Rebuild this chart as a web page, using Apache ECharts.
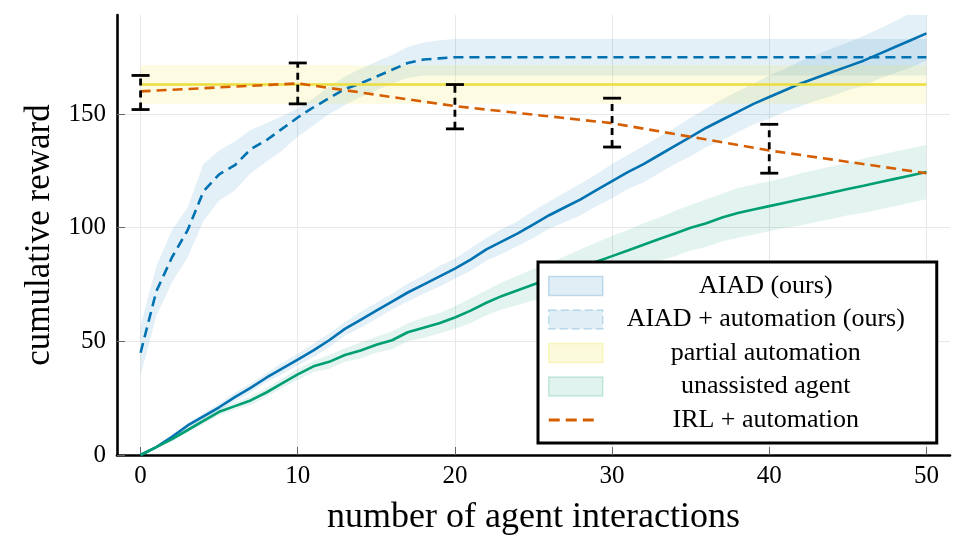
<!DOCTYPE html>
<html>
<head>
<meta charset="utf-8">
<script src="https://cdn.jsdelivr.net/npm/echarts@6/dist/echarts.min.js"></script>
<style>
html,body{margin:0;padding:0;background:#fff;}
#chart{width:968px;height:556px;}
</style>
</head>
<body>
<div id="chart"></div>
<script>
// ---- data ----
const interactions = [0,1,2,3,4,5,6,7,8,9,10,11,12,13,14,15,16,17,18,19,20,21,22,23,24,25,26,27,28,29,30,31,32,33,34,35,36,37,38,39,40,41,42,43,44,45,46,47,48,49,50];

const aiadMean = [0,3.5,8,13,17,21,25.5,29.5,34,38,42,46,50.5,55.5,59.5,63.5,67.5,71.5,75,78.5,82,86,90.5,94,97.5,101.5,105.5,109,112.5,116.5,120.5,124.5,128,132,136,140,144,147.5,151,154.5,157.5,160.5,163.5,166,168.5,171,173.5,176.5,179.5,182.5,185.5];
const aiadSpread = [0,0.5,1,1,1.5,1.5,2,2,2,2.5,2.5,3,3,3,3.5,3.5,3.5,4,4,4.5,4.5,5,5,5.5,5.5,6,6,6.5,7,7,7.5,7.5,8,8,8,8.5,8.5,9,9,9,9.5,9.5,10,10,10.5,10.5,11,11,11.5,12,12];

const aiadAutoMean = [45,72,87,99,116,123.5,127.5,134.5,138.5,143.5,148.5,153,157,161,163.5,166.5,169.5,172.5,174,174.5,175,175,175,175,175,175,175,175,175,175,175,175,175,175,175,175,175,175,175,175,175,175,175,175,175,175,175,175,175,175,175];
const aiadAutoLow = [35,61,76,87,103,112,116.5,124,129,134,140,145,150,154,157.5,160.5,163.5,166,167,167,167,167,167,167,167,167,167,167,167,167,167,167,167,167,167,167,167,167,167,167,167,167,167,167,167,167,167,167,167,167,167];
const aiadAutoHigh = [57,83,99,109,128,134,138,143,146,149,152.5,157,162,166.5,170,173,176,179.5,181.5,182.5,183,183,183,183,183,183,183,183,183,183,183,183,183,183,183,183,183,183,183,183,183,183,183,183,183,183,183,183,183,183,183];

const unassistedMean = [0,3.5,7,11,15,19,21.5,24,27.5,31.5,35.5,39,41,44,46,48.5,50.5,54,56,58,60.5,63.5,67,70,72.5,75,77.5,80,82.5,85,87.5,90,92.5,95,97.5,100,102,104.5,106.5,108,109.5,111,112.5,114,115.5,117,118.5,120,121.5,123,124.5];
const unassistedSpread = [0,0.5,1,1,1.5,1.5,1.5,2,2,2,2.5,2.5,3,3,3.5,3.5,4,4,4.5,4.5,5,5.5,5.5,6,6.5,7,7,7.5,8,8.5,9,9,9.5,9.5,10,10,10.5,10.5,11,11,11,11,11.5,11.5,11.5,11.5,12,12,12,12,12];

const partialX = [0,50];
const partialMean = [163,163];
const partialLow = [154.5,154.5];
const partialHigh = [171.5,171.5];

const irlX = [0,10,20,30,40,50];
const irlMean = [160,163.5,153.5,146,134,124];
const irlErrX = [0,10,20,30,40];
const irlErrLow = [152,154.5,143.5,135.5,124];
const irlErrHigh = [167,172.5,163,157,145.5];

const xTicks = [0,10,20,30,40,50];
const yTicks = [0,50,100,150];

// ---- styles ----
const FONT = 'Liberation Serif';
const BLUE = '#0072B2', GREEN = '#009E73', YELLOW = '#EBDD3C', ORANGE = '#D55E00';

function bandSeries(name, xs, lo, hi, fill) {
  return {
    name: name, type: 'custom', silent: true, z: 1,
    data: xs.map((x, i) => [x, lo[i], hi[i]]),
    encode: { x: 0, y: [1, 2] },
    itemStyle: { color: fill },
    renderItem: function (params, api) {
      if (params.dataIndexInside !== 0) return null;
      const pts = [];
      for (let i = 0; i < xs.length; i++) pts.push(api.coord([xs[i], hi[i]]));
      for (let i = xs.length - 1; i >= 0; i--) pts.push(api.coord([xs[i], lo[i]]));
      const cs = params.coordSys;
      return {
        type: 'polygon',
        shape: { points: pts },
        style: { fill: fill, stroke: null },
        clipPath: { type: 'rect', shape: { x: cs.x, y: cs.y, width: cs.width, height: cs.height } }
      };
    }
  };
}

function lineSeries(name, xs, ys, color, dash) {
  return {
    name: name, type: 'line', z: 3, symbol: 'none', showSymbol: false, silent: true,
    data: xs.map((x, i) => [x, ys[i]]),
    lineStyle: { color: color, width: 2.6, type: dash ? [10, 6] : 'solid' },
    itemStyle: { color: color }
  };
}

const lowOf = (m, s) => m.map((v, i) => v - s[i]);
const highOf = (m, s) => m.map((v, i) => v + s[i]);

const series = [
  bandSeries('AIAD (ours)', interactions, lowOf(aiadMean, aiadSpread), highOf(aiadMean, aiadSpread), 'rgba(0,114,178,0.11)'),
  lineSeries('AIAD (ours) mean', interactions, aiadMean, BLUE, false),
  bandSeries('AIAD + automation (ours)', interactions, aiadAutoLow, aiadAutoHigh, 'rgba(0,114,178,0.11)'),
  lineSeries('AIAD + automation mean', interactions, aiadAutoMean, BLUE, true),
  bandSeries('partial automation', partialX, partialLow, partialHigh, 'rgba(240,228,66,0.16)'),
  lineSeries('partial automation mean', partialX, partialMean, YELLOW, false),
  bandSeries('unassisted agent', interactions, lowOf(unassistedMean, unassistedSpread), highOf(unassistedMean, unassistedSpread), 'rgba(0,158,115,0.11)'),
  lineSeries('unassisted agent mean', interactions, unassistedMean, GREEN, false),
  lineSeries('IRL + automation', irlX, irlMean, ORANGE, true),
  {
    name: 'IRL error', type: 'custom', silent: true, z: 5,
    data: irlErrX.map((x, i) => [x, irlErrLow[i], irlErrHigh[i]]),
    encode: { x: 0, y: [1, 2] },
    renderItem: function (params, api) {
      const lo = api.coord([api.value(0), api.value(1)]);
      const hi = api.coord([api.value(0), api.value(2)]);
      const cap = 9;
      const st = { stroke: '#000', lineWidth: 2.8 };
      return {
        type: 'group',
        children: [
          { type: 'line', shape: { x1: lo[0], y1: lo[1], x2: hi[0], y2: hi[1] }, style: Object.assign({ lineDash: [7, 5] }, st) },
          { type: 'line', shape: { x1: hi[0] - cap, y1: hi[1], x2: hi[0] + cap, y2: hi[1] }, style: st },
          { type: 'line', shape: { x1: lo[0] - cap, y1: lo[1], x2: lo[0] + cap, y2: lo[1] }, style: st }
        ]
      };
    }
  }
];

const chart = echarts.init(document.getElementById('chart'), null, { renderer: 'canvas' });
chart.setOption({
  animation: false,
  backgroundColor: '#fff',
  grid: { left: 117, right: 18, top: 15, bottom: 101, containLabel: false },
  xAxis: {
    type: 'value', min: -1.5, max: 51.5,
    name: 'number of agent interactions', nameLocation: 'middle', nameGap: 45,
    nameTextStyle: { fontFamily: FONT, fontSize: 36, color: '#000' },
    axisLine: { show: true, onZero: false, lineStyle: { color: '#000', width: 2.6 } },
    axisTick: { show: true, inside: true, length: 8, customValues: xTicks, lineStyle: { color: '#666', width: 1 } },
    axisLabel: { customValues: xTicks, fontFamily: FONT, fontSize: 25, color: '#000', margin: 9 },
    splitLine: { show: true, lineStyle: { color: '#e8e8e8', width: 1 } }
  },
  yAxis: {
    type: 'value', min: 0, max: 193.6,
    name: 'cumulative reward', nameLocation: 'middle', nameGap: 59,
    nameTextStyle: { fontFamily: FONT, fontSize: 35, color: '#000' },
    axisLine: { show: true, onZero: false, lineStyle: { color: '#000', width: 2.6 } },
    axisTick: { show: true, inside: true, length: 8, customValues: yTicks, lineStyle: { color: '#666', width: 1 } },
    axisLabel: { customValues: yTicks, fontFamily: FONT, fontSize: 25, color: '#000', margin: 11 },
    splitLine: { show: true, lineStyle: { color: '#e8e8e8', width: 1 } }
  },
  legend: {
    orient: 'vertical', left: 538, top: 262,
    backgroundColor: '#fff', borderColor: '#000', borderWidth: 3,
    padding: [11, 13, 10, 10],
    itemWidth: 54, itemHeight: 19, itemGap: 7.5, itemTextGap: 4,
    selectedMode: false, symbolKeepAspect: true,
    data: [
      { name: 'AIAD (ours)', icon: 'rect', itemStyle: { color: 'rgba(0,114,178,0.12)', borderColor: 'rgba(0,114,178,0.22)', borderWidth: 1.5 } },
      { name: 'AIAD + automation (ours)', icon: 'rect', itemStyle: { color: 'rgba(0,114,178,0.12)', borderColor: 'rgba(0,114,178,0.22)', borderWidth: 1.5, borderType: [8, 4] } },
      { name: 'partial automation', icon: 'rect', itemStyle: { color: 'rgba(240,228,66,0.18)', borderColor: 'rgba(240,228,66,0.3)', borderWidth: 1.5 } },
      { name: 'unassisted agent', icon: 'rect', itemStyle: { color: 'rgba(0,158,115,0.12)', borderColor: 'rgba(0,158,115,0.2)', borderWidth: 1.5 } },
      { name: 'IRL + automation', icon: 'path://M0,0h11v3h-11z M17,0h11v3h-11z M34,0h11v3h-11z M54,0', itemStyle: { color: ORANGE, borderWidth: 0 } }
    ],
    formatter: function (name) { return '{t|' + name + '}'; },
    textStyle: {
      rich: { t: { width: 316, align: 'center', fontFamily: FONT, fontSize: 26, lineHeight: 25, color: '#000' } }
    }
  },
  series: series
});
</script>
</body>
</html>
